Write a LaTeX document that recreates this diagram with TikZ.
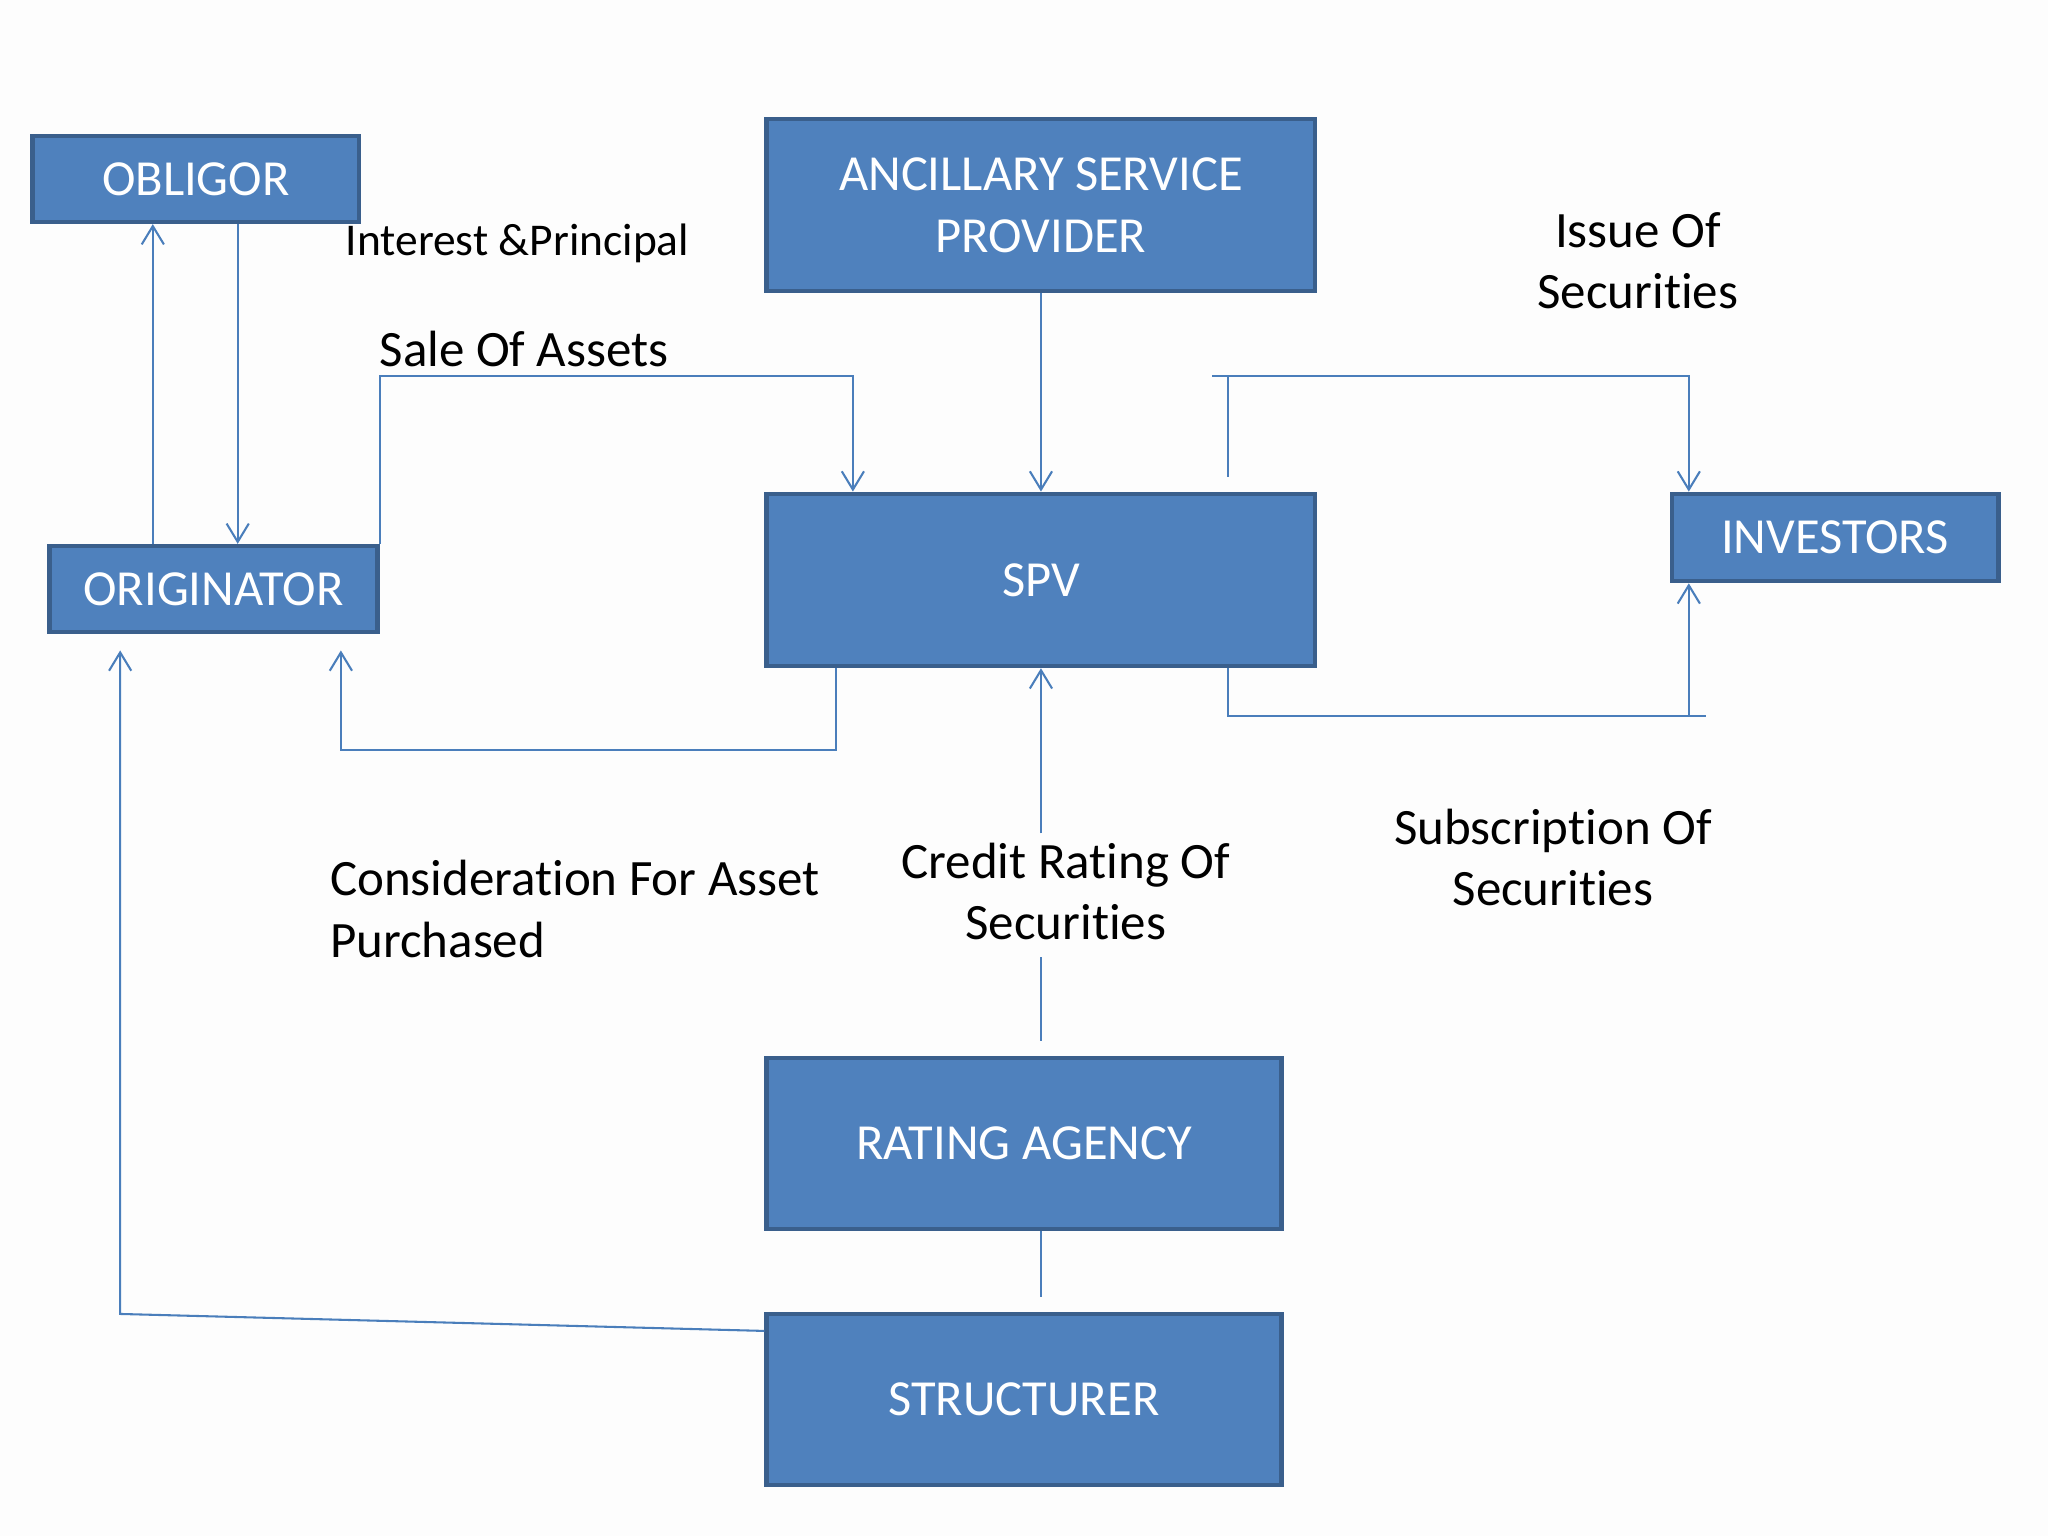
\documentclass[tikz,border=0pt]{standalone}
\usepackage{fontspec}
\setmainfont{Carlito}[Ligatures=NoCommon]
\usetikzlibrary{arrows.meta}
\definecolor{boxfill}{HTML}{4F81BD}
\definecolor{boxline}{HTML}{3A5F8C}
\definecolor{lnk}{HTML}{4A7EBB}
\definecolor{bg}{HTML}{FDFDFD}
\tikzset{
  box/.style={draw=boxline, fill=boxfill, line width=0.9pt, text=white, align=center, inner sep=0pt,
    font=\fontsize{11}{13.4}\selectfont},
  conn/.style={draw=lnk, line width=0.45pt},
  arr/.style={conn, -{Straight Barb[length=0.14cm, width=0.17cm, line width=0.45pt]}},
  lbl/.style={inner sep=0pt, font=\fontsize{11.1}{13.4}\selectfont, text=black},
}
\begin{document}
\begin{tikzpicture}[x=0.01cm, y=-0.01cm]
\fill[bg] (0,0) rectangle (1568,1176);
\useasboundingbox (0,0) rectangle (1568,1176);

% boxes
\node[box, minimum width=2.50cm, minimum height=0.66cm] (obl) at (150,137) {OBLIGOR};
\node[box, minimum width=4.20cm, minimum height=1.32cm] (anc) at (797,157) {ANCILLARY SERVICE\\PROVIDER};
\node[box, minimum width=4.20cm, minimum height=1.32cm] (spv) at (797,444) {SPV};
\node[box, minimum width=2.50cm, minimum height=0.67cm] (inv) at (1405,411.5) {INVESTORS};
\node[box, minimum width=2.51cm, minimum height=0.66cm] (orig) at (163.5,451) {ORIGINATOR};
\node[box, minimum width=3.94cm, minimum height=1.31cm] (rat) at (784,875.5) {RATING AGENCY};
\node[box, minimum width=3.94cm, minimum height=1.31cm] (str) at (784,1071.5) {STRUCTURER};

% helper coordinates
\coordinate (a117) at (117,0);
\coordinate (a182) at (182,0);
\coordinate (sale) at (653,288);
\coordinate (iss1) at (940,365);
\coordinate (iss2) at (928,288);
\coordinate (iss3) at (1293,288);
\coordinate (sub) at (940,548);
\coordinate (subend) at (1306,548);
\coordinate (sub3) at (1293,548);
\coordinate (con1) at (640,574);
\coordinate (con2) at (261,498);
\coordinate (cr1) at (797,638);
\coordinate (cr2) at (797,733);
\coordinate (cr2b) at (797,797);
\coordinate (cr3) at (797,993);
\coordinate (st1) at (587,1019);
\coordinate (st2) at (92,1006);
\coordinate (st3) at (92,498);

% connectors
\draw[arr] (orig.north -| a117) -- (obl.south -| a117);
\draw[arr] (obl.south -| a182) -- (orig.north -| a182);
\draw[arr] (orig.north east) |- (sale) -- (spv.north -| sale);
\draw[arr] (anc.south) -- (spv.north);
\draw[conn] (iss1) -- (iss1 |- iss2);
\draw[arr] (iss2) -- (iss3) -- (inv.north -| iss3);
\draw[conn] (spv.south -| sub) -- (sub) -- (subend);
\draw[arr] (sub3) -- (inv.south -| sub3);
\draw[arr] (spv.south -| con1) -- (con1) -| (con2);
\draw[arr] (cr1) -- (spv.south);
\draw[conn] (cr2) -- (cr2b);
\draw[conn] (rat.south -| cr3) -- (cr3);
\draw[arr] (st1 -| str.west) -- (st2) -- (st3);

% labels
\node[lbl, anchor=west, font=\fontsize{9.9}{12}\selectfont] (l1) at (264,186) {Interest \&Principal};
\node[lbl, anchor=west] (l2) at (290,267) {Sale Of Assets};
\node[lbl, align=center] (l3) at (1254,199.5) {Issue Of\\Securities};
\node[lbl, anchor=west, align=left] (l4) at (252,696) {Consideration For Asset\\Purchased};
\node[lbl, align=center] (l5) at (816,682.5) {Credit Rating Of\\Securities};
\node[lbl, align=center] (l6) at (1189,656.5) {Subscription Of\\Securities};
\end{tikzpicture}
\end{document}
